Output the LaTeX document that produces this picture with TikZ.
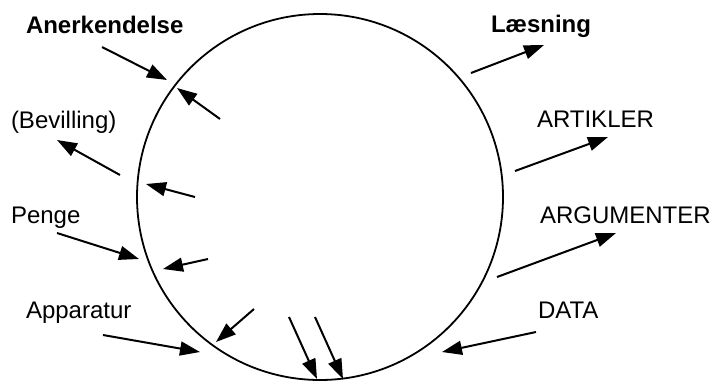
\documentclass[tikz,border=0pt]{standalone}
\usepackage{fontspec}
\setmainfont{Liberation Sans}
\usetikzlibrary{arrows.meta}
\tikzset{%
	% Style of the ring
	Ring/.style={line width=0.9pt,draw=black},
	% Style of the plain labels
	Label/.style={font=\fontsize{12}{14}\selectfont,anchor=base west,inner sep=0,outer sep=0},
	% Style of the bold labels
	BoldLabel/.style={Label,font=\fontsize{12}{14}\selectfont\bfseries},
	% Style of the flow arrows
	Flow/.style={line width=1pt,-{Triangle[length=10pt,width=7pt]}},
}

\begin{document}
\begin{tikzpicture}[x=0.5pt,y=-0.5pt]
\useasboundingbox (0,0) rectangle (711,381);

%~~~~~~~~~~~~~~~~~~~~~~~~~~~~~~~~~~~~~~~~~~~~~~~~~~
% Ring
%~~~~~~~~~~~~~~~~~~~~~~~~~~~~~~~~~~~~~~~~~~~~~~~~~~
\coordinate (C) at (320, 197);
\draw[Ring] (C) circle [radius=183];

%~~~~~~~~~~~~~~~~~~~~~~~~~~~~~~~~~~~~~~~~~~~~~~~~~~
% Labels
%~~~~~~~~~~~~~~~~~~~~~~~~~~~~~~~~~~~~~~~~~~~~~~~~~~
\node[BoldLabel] (L_anerk) at (26, 33) {Anerkendelse};
\node[Label] (L_bev) at (11, 128) {(Bevilling)};
\node[Label] (L_penge) at (11, 223) {Penge};
\node[Label] (L_app) at (26, 318) {Apparatur};

\node[BoldLabel] (L_laes) at (491, 32) {Læsning};
\node[Label] (L_art) at (537, 127) {ARTIKLER};
\node[Label] (L_arg) at (540, 223) {ARGUMENTER};
\node[Label] (L_data) at (538, 318) {DATA};

%~~~~~~~~~~~~~~~~~~~~~~~~~~~~~~~~~~~~~~~~~~~~~~~~~~
% Arrow ends
%~~~~~~~~~~~~~~~~~~~~~~~~~~~~~~~~~~~~~~~~~~~~~~~~~~
% left side, from outside in
\coordinate (A1s) at (102, 47);  \coordinate (A1e) at (167, 80);
\coordinate (A2s) at (120, 175); \coordinate (A2e) at (57, 140);
\coordinate (A3s) at (57, 233);  \coordinate (A3e) at (139, 259);
\coordinate (A4s) at (103, 335); \coordinate (A4e) at (200, 352);
% left side, from inside
\coordinate (B1s) at (220, 119); \coordinate (B1e) at (177, 88);
\coordinate (B2s) at (195, 197); \coordinate (B2e) at (146, 184);
\coordinate (B3s) at (208, 259); \coordinate (B3e) at (163, 269);
\coordinate (B4s) at (254, 309); \coordinate (B4e) at (216, 342);
% bottom
\coordinate (D1s) at (289, 317); \coordinate (D1e) at (317, 379);
\coordinate (D2s) at (315, 317); \coordinate (D2e) at (343, 379);
% right side
\coordinate (R1s) at (471, 73);  \coordinate (R1e) at (544, 45);
\coordinate (R2s) at (515, 171); \coordinate (R2e) at (608, 137);
\coordinate (R3s) at (497, 277); \coordinate (R3e) at (616, 233);
\coordinate (R4s) at (536, 332); \coordinate (R4e) at (442, 352);

%~~~~~~~~~~~~~~~~~~~~~~~~~~~~~~~~~~~~~~~~~~~~~~~~~~
% Arrows
%~~~~~~~~~~~~~~~~~~~~~~~~~~~~~~~~~~~~~~~~~~~~~~~~~~
\draw[Flow] (A1s) -- (A1e);
\draw[Flow] (A2s) -- (A2e);
\draw[Flow] (A3s) -- (A3e);
\draw[Flow] (A4s) -- (A4e);

\draw[Flow] (B1s) -- (B1e);
\draw[Flow] (B2s) -- (B2e);
\draw[Flow] (B3s) -- (B3e);
\draw[Flow] (B4s) -- (B4e);

\draw[Flow] (D1s) -- (D1e);
\draw[Flow] (D2s) -- (D2e);

\draw[Flow] (R1s) -- (R1e);
\draw[Flow] (R2s) -- (R2e);
\draw[Flow] (R3s) -- (R3e);
\draw[Flow] (R4s) -- (R4e);

\end{tikzpicture}
\end{document}
